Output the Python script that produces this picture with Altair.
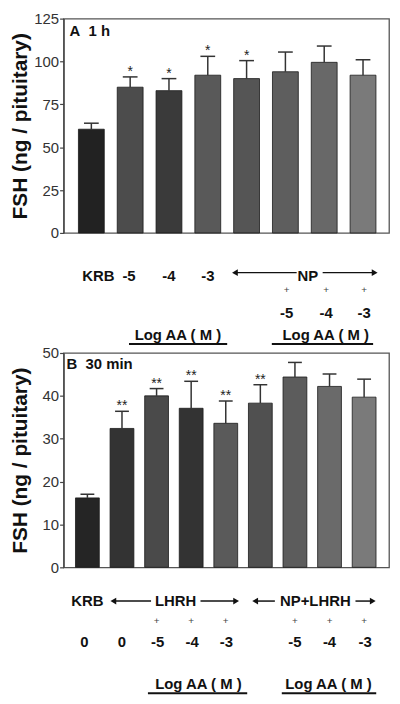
import altair as alt
import pandas as pd

FONT = "Liberation Sans"

# ---------------- Panel A (1 h) ----------------
A_groups = ["KRB", "AA -5", "AA -4", "AA -3", "NP", "NP+AA -5", "NP+AA -4", "NP+AA -3"]
A_values = [60.5, 85, 83, 92, 90, 94, 99.5, 92]
A_sem = [3.5, 6, 7, 11, 10.5, 11.5, 9.5, 9]
A_sig = ["", "*", "*", "*", "*", "", "", ""]
A_colors = ["#222222", "#4c4c4c", "#3a3a3a", "#595959", "#555555", "#5e5e5e", "#686868", "#7a7a7a"]
A_ticks = [0, 25, 50, 75, 100, 125]
A_title = "A\u00a0\u00a01 h"

A_row1_text = ["KRB", "-5", "-4", "-3", "NP"]
A_row1_x = [0.18, 0.97, 2.0, 3.0, 5.58]
A_plus_x = [5.03, 6.05, 7.03]
A_num_text = ["-5", "-4", "-3"]
A_num_x = [5.03, 6.05, 7.03]
A_log_text = ["Log AA ( M )", "Log AA ( M )"]
A_log_x = [2.23, 6.04]
A_under_x1 = [0.97, 4.65]
A_under_x2 = [3.5, 7.26]
A_arrow_x1 = [3.7, 5.96]
A_arrow_x2 = [5.29, 7.3]
A_head_x = [3.7, 7.3]
A_head_shape = ["triangle-left", "triangle-right"]

# ---------------- Panel B (30 min) ----------------
B_groups = ["KRB", "LHRH", "LHRH+AA -5", "LHRH+AA -4", "LHRH+AA -3",
            "NP+LHRH", "NP+LHRH+AA -5", "NP+LHRH+AA -4", "NP+LHRH+AA -3"]
B_values = [16.2, 32.4, 40.0, 37.1, 33.6, 38.3, 44.4, 42.2, 39.7]
B_sem = [0.85, 4.0, 1.7, 6.3, 5.2, 4.3, 3.4, 2.9, 4.2]
B_sig = ["", "**", "**", "**", "**", "**", "", "", ""]
B_colors = ["#252525", "#333333", "#4a4a4a", "#333333", "#5a5a5a", "#505050", "#5c5c5c", "#6a6a6a", "#7a7a7a"]
B_ticks = [0, 10, 20, 30, 40, 50]
B_title = "B\u00a0\u00a030 min"

B_row1_text = ["KRB", "LHRH", "NP+LHRH"]
B_row1_x = [0.0, 2.55, 6.59]
B_plus_x = [2, 3, 4, 6, 7, 8]
B_num_text = ["0", "0", "-5", "-4", "-3", "-5", "-4", "-3"]
B_num_x = [-0.09, 1.0, 2.03, 3.03, 4.02, 6.0, 7.0, 8.03]
B_log_text = ["Log AA ( M )", "Log AA ( M )"]
B_log_x = [3.21, 6.97]
B_under_x1 = [1.75, 5.62]
B_under_x2 = [4.62, 8.35]
B_arrow_x1 = [0.75, 3.27, 4.85, 7.75]
B_arrow_x2 = [1.84, 4.3, 5.42, 8.25]
B_head_x = [0.75, 4.3, 4.85, 8.25]
B_head_shape = ["triangle-left", "triangle-right", "triangle-left", "triangle-right"]

W = 328
H = 216


def panel(values, sem, sig, colors, ticks, title, xdom, halfw, capw,
          title_pos, rows):
    n = len(values)
    df = pd.DataFrame({
        "i": list(range(n)),
        "v": values,
        "zero": [0] * n,
        "top": [v + s for v, s in zip(values, sem)],
        "sig": sig,
        "color": colors,
    })
    df["x1"] = df["i"] - halfw
    df["x2"] = df["i"] + halfw
    df["c1"] = df["i"] - capw
    df["c2"] = df["i"] + capw

    xs = alt.Scale(domain=xdom, nice=False, zero=False)
    ys = alt.Scale(domain=[ticks[0], ticks[-1]], nice=False)
    yaxis = alt.Axis(values=ticks, grid=False, tickSize=4, tickColor="#444",
                     domainColor="#444", domainWidth=1.3, tickWidth=1.2,
                     labelFont=FONT, labelFontSize=15, labelColor="#333",
                     labelPadding=1, title="FSH (ng / pituitary)",
                     titleFont=FONT, titleFontSize=21, titleFontWeight="bold",
                     titleColor="#111", titleAngle=270, titleX=-43, titleY=H / 2,
                     titleAlign="center", titleBaseline="middle")

    def Y(field):
        return alt.Y(field, scale=ys, axis=yaxis)

    base = alt.Chart(df)
    bars = base.mark_bar(stroke="#1a1a1a", strokeWidth=0.8).encode(
        x=alt.X("x1:Q", scale=xs, axis=None), x2="x2:Q",
        y=Y("v:Q"), y2="zero:Q", color=alt.Color("color:N", scale=None))
    stem = base.mark_rule(color="#333", strokeWidth=1.5).encode(
        x=alt.X("i:Q", scale=xs, axis=None), y=Y("v:Q"), y2="top:Q")
    cap = base.mark_rule(color="#333", strokeWidth=1.5).encode(
        x=alt.X("c1:Q", scale=xs, axis=None), x2="c2:Q", y=Y("top:Q"))
    stars = base.mark_text(font=FONT, fontSize=14, color="#222", baseline="bottom",
                           dy=2).encode(
        x=alt.X("i:Q", scale=xs, axis=None), y=Y("top:Q"), text="sig:N")
    ptitle = alt.Chart(pd.DataFrame({"t": [title]})).mark_text(
        font=FONT, fontSize=15, fontWeight="bold", color="#111", align="left",
        baseline="alphabetic").encode(
        x=alt.value(title_pos[0]), y=alt.value(title_pos[1]), text="t:N")

    layers = [bars, stem, cap, stars, ptitle]

    # annotation rows beneath the plot
    for kind, xsv, extra, yoff in rows:
        if kind == "text":
            texts, size, weight, color = extra
            d = pd.DataFrame({"x": xsv, "t": texts})
            layers.append(alt.Chart(d).mark_text(
                font=FONT, fontSize=size, fontWeight=weight, color=color,
                baseline="middle", align="center").encode(
                x=alt.X("x:Q", scale=xs, axis=None), y=alt.value(yoff), text="t:N"))
        elif kind == "line":
            x2v, width = extra
            d = pd.DataFrame({"x": xsv, "x2": x2v})
            layers.append(alt.Chart(d).mark_rule(color="#111", strokeWidth=width).encode(
                x=alt.X("x:Q", scale=xs, axis=None), x2="x2:Q", y=alt.value(yoff)))
        elif kind == "head":
            shapes = extra
            d = pd.DataFrame({"x": xsv, "s": shapes})
            layers.append(alt.Chart(d).mark_point(filled=True, color="#111", size=45,
                                                  opacity=1).encode(
                x=alt.X("x:Q", scale=xs, axis=None), y=alt.value(yoff),
                shape=alt.Shape("s:N", scale=None)))

    return alt.layer(*layers).properties(width=W, height=H)


rowsA = [
    ("text", A_row1_x, (A_row1_text, 15, "bold", "#111"), 259),
    ("line", A_arrow_x1, (A_arrow_x2, 1.5), 256),
    ("head", A_head_x, A_head_shape, 256),
    ("text", A_plus_x, (["+"] * len(A_plus_x), 10, "normal", "#444"), 274),
    ("text", A_num_x, (A_num_text, 15, "bold", "#111"), 297),
    ("text", A_log_x, (A_log_text, 15, "bold", "#111"), 319),
    ("line", A_under_x1, (A_under_x2, 2), 328),
]
rowsB = [
    ("text", B_row1_x, (B_row1_text, 15, "bold", "#111"), 250),
    ("line", B_arrow_x1, (B_arrow_x2, 1.5), 250),
    ("head", B_head_x, B_head_shape, 250),
    ("text", B_plus_x, (["+"] * len(B_plus_x), 10, "normal", "#444"), 270),
    ("text", B_num_x, (B_num_text, 15, "bold", "#111"), 291),
    ("text", B_log_x, (B_log_text, 15, "bold", "#111"), 334),
    ("line", B_under_x1, (B_under_x2, 2), 343),
]

chartA = panel(A_values, A_sem, A_sig, A_colors, A_ticks, A_title,
               [-0.716, 7.67], 0.333, 0.19, (6, 18), rowsA)
chartB = panel(B_values, B_sem, B_sig, B_colors, B_ticks, B_title,
               [-0.689, 8.72], 0.344, 0.2, (3, 16), rowsB)

chart = alt.vconcat(chartA, chartB, spacing=121, bounds="flush").properties(
    padding={"left": 1, "top": 0, "right": 2, "bottom": 0},
    background="white",
).configure_view(stroke="#555", strokeWidth=1.3)

chart.save("out.html", embed_options={"renderer": "svg", "actions": False})
